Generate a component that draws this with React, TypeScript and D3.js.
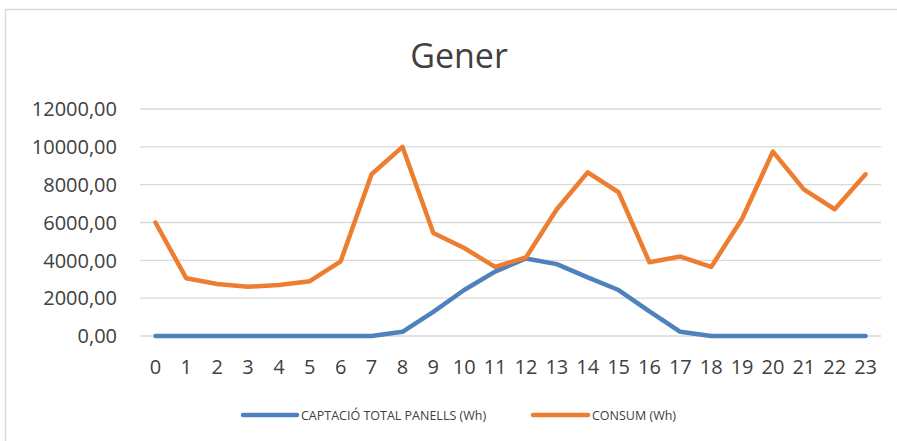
import React from "react";
import * as d3 from "d3";

const hours: string[] = Array.from({ length: 24 }, (_, i) => String(i));
const captacio: number[] = [0, 0, 0, 0, 0, 0, 0, 0, 220, 1280, 2430, 3400, 4100, 3800, 3100, 2430, 1300, 220, 0, 0, 0, 0, 0, 0];
const consum: number[] = [6000, 3050, 2750, 2600, 2700, 2900, 3950, 8550, 10000, 5450, 4650, 3650, 4150, 6700, 8650, 7600, 3900, 4200, 3650, 6200, 9750, 7750, 6700, 8550];
const yTicks: number[] = [0, 2000, 4000, 6000, 8000, 10000, 12000];
const seriesNames: string[] = ["CAPTACIÓ TOTAL PANELLS (Wh)", "CONSUM (Wh)"];
const title = "Gener";

const W = 897;
const H = 441;
const FONT = "'Open Sans', 'Noto Sans', sans-serif";

export default function App() {
  const x = d3.scaleBand<string>().domain(hours).range([140, 881]);
  const y = d3.scaleLinear().domain([0, 12000]).range([336, 109]);
  const cx = (i: number) => (x(hours[i]) as number) + x.bandwidth() / 2;
  const line = d3
    .line<number>()
    .x((_, i) => cx(i))
    .y((d) => y(d));
  const fmt = (v: number) => v.toFixed(2).replace(".", ",");
  const colors = ["#4f81bd", "#ed7d31"];
  const legend = [
    { x1: 243, x2: 297, tx: 301 },
    { x1: 533, x2: 588, tx: 592 },
  ];
  return (
    <svg
      width={W}
      height={H}
      style={{ position: "absolute", left: 0, top: 0, background: "#fff" }}
      fontFamily={FONT}
    >
      <rect x={5.5} y={9.5} width={W + 10} height={H + 10} fill="#fff" stroke="#d9d9d9" strokeWidth={1.5} />
      <text x={459} y={68} textAnchor="middle" fontSize={34} fill="#404040">
        {title}
      </text>
      {yTicks.map((t) => (
        <g key={t}>
          <line x1={140} x2={881} y1={y(t)} y2={y(t)} stroke="#d9d9d9" strokeWidth={1.3} />
          <text x={117} y={y(t)} dy="0.36em" textAnchor="end" fontSize={20} fill="#404040">
            {fmt(t)}
          </text>
        </g>
      ))}
      {hours.map((h, i) => (
        <text key={h} x={cx(i)} y={374} textAnchor="middle" fontSize={20} fill="#404040">
          {h}
        </text>
      ))}
      {[captacio, consum].map((s, k) => (
        <path
          key={k}
          d={line(s) as string}
          fill="none"
          stroke={colors[k]}
          strokeWidth={4.5}
          strokeLinejoin="round"
          strokeLinecap="round"
        />
      ))}
      {seriesNames.map((n, k) => (
        <g key={n}>
          <line x1={legend[k].x1} x2={legend[k].x2} y1={415} y2={415} stroke={colors[k]} strokeWidth={4.5} strokeLinecap="round" />
          <text x={legend[k].tx} y={415} dy="0.36em" fontSize={12.5} fill="#404040">
            {n}
          </text>
        </g>
      ))}
    </svg>
  );
}
